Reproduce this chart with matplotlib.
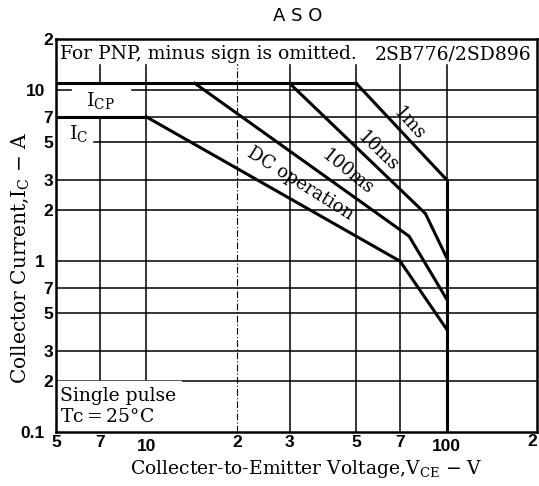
import matplotlib
matplotlib.use("Agg")
import matplotlib.pyplot as plt
from matplotlib.ticker import FixedLocator, FixedFormatter
from matplotlib.patches import Rectangle

# ===========================
#   GENERAL SETTINGS
# ===========================
plt.rcParams["mathtext.fontset"] = "dejavuserif"
serif = "DejaVu Serif"
sans = ["Liberation Sans Narrow", "Liberation Sans"]
lw_curve = 2.2
lw_grid = 1.1
fs_text = 13.5

# ===========================
#   DATA
# ===========================
icp_v = [5, 50]
icp_i = [11, 11]

ic_v = [5, 10]
ic_i = [7, 7]

ms1_v = [50, 100]
ms1_i = [11, 3]

ms10_v = [30, 85, 100]
ms10_i = [11, 1.9, 1.05]

ms100_v = [14.5, 75, 100]
ms100_i = [11, 1.4, 0.6]

dc_v = [10, 70, 100]
dc_i = [7, 1.0, 0.4]

vceo_v = [100, 100]
vceo_i = [3, 0.1]

# ticks / grid
x_major = [10, 100]
x_major_lbl = ["10", "100"]
x_minor = [5, 7, 20, 30, 50, 70]
x_minor_lbl = ["5", "7", "2", "3", "5", "7"]
x_end_lbl = "2"   # label at 200, right aligned so it stays in the picture

y_major = [0.1, 1, 10]
y_major_lbl = ["0.1", "1", "10"]
y_minor = [0.2, 0.3, 0.5, 0.7, 2, 3, 5, 7, 20]
y_minor_lbl = ["2", "3", "5", "7", "2", "3", "5", "7", "2"]

x_grid = [7, 10, 20, 30, 50, 70, 100]
y_grid = [0.2, 0.3, 0.5, 0.7, 1, 2, 3, 5, 7, 10]

# ===========================
#   FIGURE
# ===========================
fig = plt.figure(figsize=(5.39, 4.86), dpi=100)
ax = fig.add_axes([56 / 539, 1 - 432 / 486, (537 - 56) / 539, (432 - 39) / 486])
ax.set_xscale("log")
ax.set_yscale("log")
ax.set_xlim(5, 200)
ax.set_ylim(0.1, 20)

# grid drawn by hand
for v in x_grid:
    if v == 20:
        ax.axvline(v, color="black", lw=0.8, ls=(0, (6, 2, 1, 2)), zorder=1)
    else:
        ax.axvline(v, color="black", lw=lw_grid, zorder=1)
for c in y_grid:
    ax.axhline(c, color="black", lw=lw_grid, zorder=1)

# white areas that hide the grid behind the notes
ax.axhspan(14.5, 20, color="white", zorder=2)
ax.add_patch(Rectangle((5, 0.1), 13 - 5, 0.2 - 0.1, color="white", zorder=2))
ax.add_patch(Rectangle((5.65, 7.2), 8.8 - 5.65, 10.7 - 7.2, color="white", zorder=2))
ax.add_patch(Rectangle((5, 4.6), 6.6 - 5, 6.8 - 4.6, color="white", zorder=2))

# curves
for xs, ys in [(icp_v, icp_i), (ic_v, ic_i), (ms1_v, ms1_i), (ms10_v, ms10_i),
               (ms100_v, ms100_i), (dc_v, dc_i), (vceo_v, vceo_i)]:
    ax.plot(xs, ys, color="black", lw=lw_curve, zorder=3, solid_joinstyle="round")

# ===========================
#   TICKS
# ===========================
ax.xaxis.set_major_locator(FixedLocator(x_major))
ax.xaxis.set_major_formatter(FixedFormatter(x_major_lbl))
ax.xaxis.set_minor_locator(FixedLocator(x_minor))
ax.xaxis.set_minor_formatter(FixedFormatter(x_minor_lbl))
ax.yaxis.set_major_locator(FixedLocator(y_major))
ax.yaxis.set_major_formatter(FixedFormatter(y_major_lbl))
ax.yaxis.set_minor_locator(FixedLocator(y_minor))
ax.yaxis.set_minor_formatter(FixedFormatter(y_minor_lbl))

ax.tick_params(axis="x", which="major", length=0, pad=5, labelsize=12.5)
ax.tick_params(axis="x", which="minor", length=0, pad=2, labelsize=12.5)
ax.tick_params(axis="y", which="major", length=0, pad=8, labelsize=12.5)
ax.tick_params(axis="y", which="minor", length=0, pad=2, labelsize=12.5)
for t in ax.get_xticklabels(which="both") + ax.get_yticklabels(which="both"):
    t.set_fontfamily(sans)
    t.set_fontweight("bold")

ax.text(200, -0.005, x_end_lbl, transform=ax.get_xaxis_transform(),
        ha="right", va="top", fontsize=12.5, fontfamily=sans, fontweight="bold")

for s in ax.spines.values():
    s.set_linewidth(1.8)
    s.set_zorder(4)

# ===========================
#   TEXTS
# ===========================
fig.text(0.553, 0.968, "A S O", ha="center", va="center", fontsize=13,
         fontfamily="DejaVu Sans")

ax.text(5.15, 16.3, "For PNP, minus sign is omitted.", fontsize=fs_text,
        fontfamily=serif, va="center", ha="left", zorder=5)
ax.text(192, 16.3, "2SB776/2SD896", fontsize=fs_text, fontfamily=serif,
        va="center", ha="right", zorder=5)

ax.text(5.15, 0.163, "Single pulse", fontsize=fs_text, fontfamily=serif,
        va="center", ha="left", zorder=5)
ax.text(5.15, 0.122, "Tc$=$25°C", fontsize=fs_text, fontfamily=serif,
        va="center", ha="left", zorder=5)

ax.text(7.05, 8.7, r"I$_{\mathrm{CP}}$", fontsize=14, fontfamily=serif,
        va="center", ha="center", zorder=5)
ax.text(5.95, 5.6, r"I$_{\mathrm{C}}$", fontsize=14, fontfamily=serif,
        va="center", ha="center", zorder=5)

ax.text(75, 6.4, "1ms", rotation=-48, fontsize=13, fontfamily=serif,
        va="center", ha="center", zorder=5)
ax.text(59, 4.4, "10ms", rotation=-44, fontsize=13, fontfamily=serif,
        va="center", ha="center", zorder=5)
ax.text(46.8, 3.3, "100ms", rotation=-39, fontsize=13, fontfamily=serif,
        va="center", ha="center", zorder=5)
ax.text(32.7, 2.84, "DC operation", rotation=-32, fontsize=13,
        fontfamily=serif, va="center", ha="center", zorder=5)

ax.set_xlabel(r"Collecter-to-Emitter Voltage,V$_{\mathrm{CE}}$ $-$ V",
              fontsize=fs_text, fontfamily=serif)
ax.xaxis.set_label_coords(0.521, -0.066)
ax.set_ylabel(r"Collector Current,I$_{\mathrm{C}}$ $-$ A",
              fontsize=14.5, fontfamily=serif)
ax.yaxis.set_label_coords(-0.052, 0.443)

fig.savefig("out.png", dpi=100)
